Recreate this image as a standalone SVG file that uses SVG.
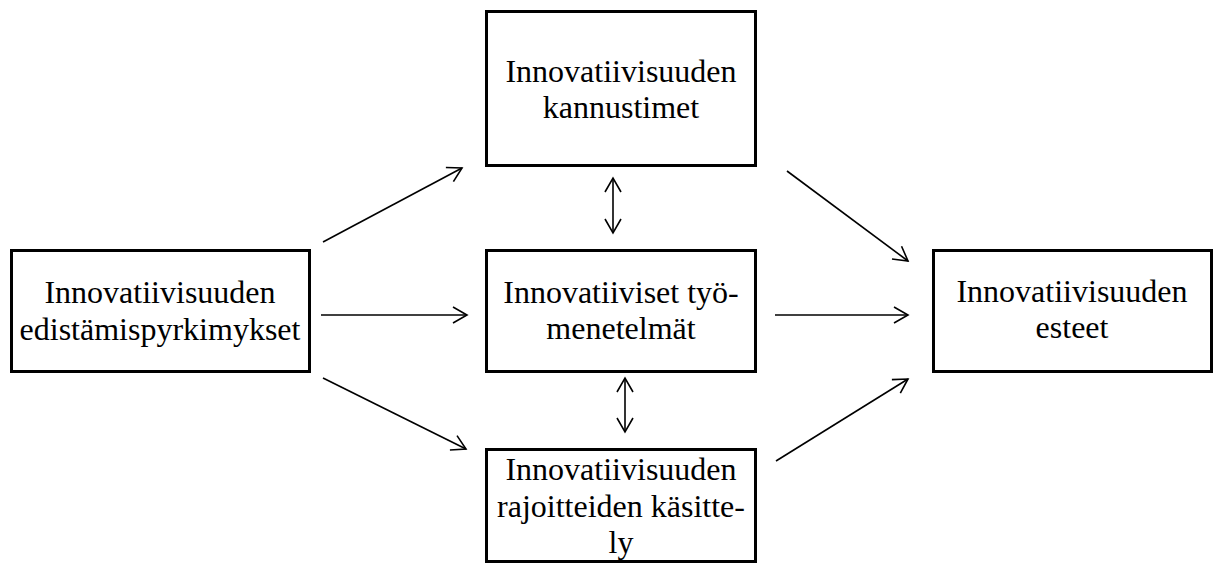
<svg xmlns="http://www.w3.org/2000/svg" width="1223" height="567" viewBox="0 0 1223 567">
<style>
.box{fill:#fff;stroke:#000;stroke-width:3}
.t{font-family:"Liberation Serif","Times New Roman",serif;font-size:32px;fill:#000;text-anchor:middle}
.c{stroke:#000;stroke-width:1.6;fill:none}
</style>
<defs>
<marker id="ah" markerUnits="userSpaceOnUse" markerWidth="20" markerHeight="20" viewBox="-16 -10 20 20" refX="0" refY="0" orient="auto-start-reverse">
<path d="M-14,-8 L0,0 L-14,8" fill="none" stroke="#000" stroke-width="1.6"/>
</marker>
</defs>
<rect width="1223" height="567" fill="#fff"/>
<g id="connectors">
<line class="c" x1="323" y1="242" x2="462" y2="168" marker-end="url(#ah)"/>
<line class="c" x1="321" y1="315" x2="467" y2="315" marker-end="url(#ah)"/>
<line class="c" x1="323" y1="378" x2="466" y2="449" marker-end="url(#ah)"/>
<line class="c" x1="787" y1="171" x2="908" y2="261" marker-end="url(#ah)"/>
<line class="c" x1="775" y1="315" x2="908" y2="315" marker-end="url(#ah)"/>
<line class="c" x1="776" y1="461" x2="908" y2="379" marker-end="url(#ah)"/>
<line class="c" x1="613" y1="178" x2="613" y2="233" marker-start="url(#ah)" marker-end="url(#ah)"/>
<line class="c" x1="625" y1="378" x2="625" y2="432" marker-start="url(#ah)" marker-end="url(#ah)"/>
</g>
<g id="top">
<rect class="box" x="486.5" y="11.5" width="269" height="154"/>
<text class="t" x="621" y="82">Innovatiivisuuden</text>
<text class="t" x="621" y="118">kannustimet</text>
</g>
<g id="left">
<rect class="box" x="11.5" y="250.5" width="298" height="121"/>
<text class="t" x="160" y="303">Innovatiivisuuden</text>
<text class="t" x="160" y="340">edistämispyrkimykset</text>
</g>
<g id="middle">
<rect class="box" x="486.5" y="250.5" width="269" height="121"/>
<text class="t" x="621" y="303">Innovatiiviset työ-</text>
<text class="t" x="621" y="339">menetelmät</text>
</g>
<g id="right">
<rect class="box" x="933.5" y="250.5" width="278" height="121"/>
<text class="t" x="1072" y="302">Innovatiivisuuden</text>
<text class="t" x="1072" y="338">esteet</text>
</g>
<g id="bottom">
<rect class="box" x="486.5" y="449.5" width="269" height="112"/>
<text class="t" x="621" y="480">Innovatiivisuuden</text>
<text class="t" x="621" y="517">rajoitteiden käsitte-</text>
<text class="t" x="621" y="553">ly</text>
</g>
</svg>
